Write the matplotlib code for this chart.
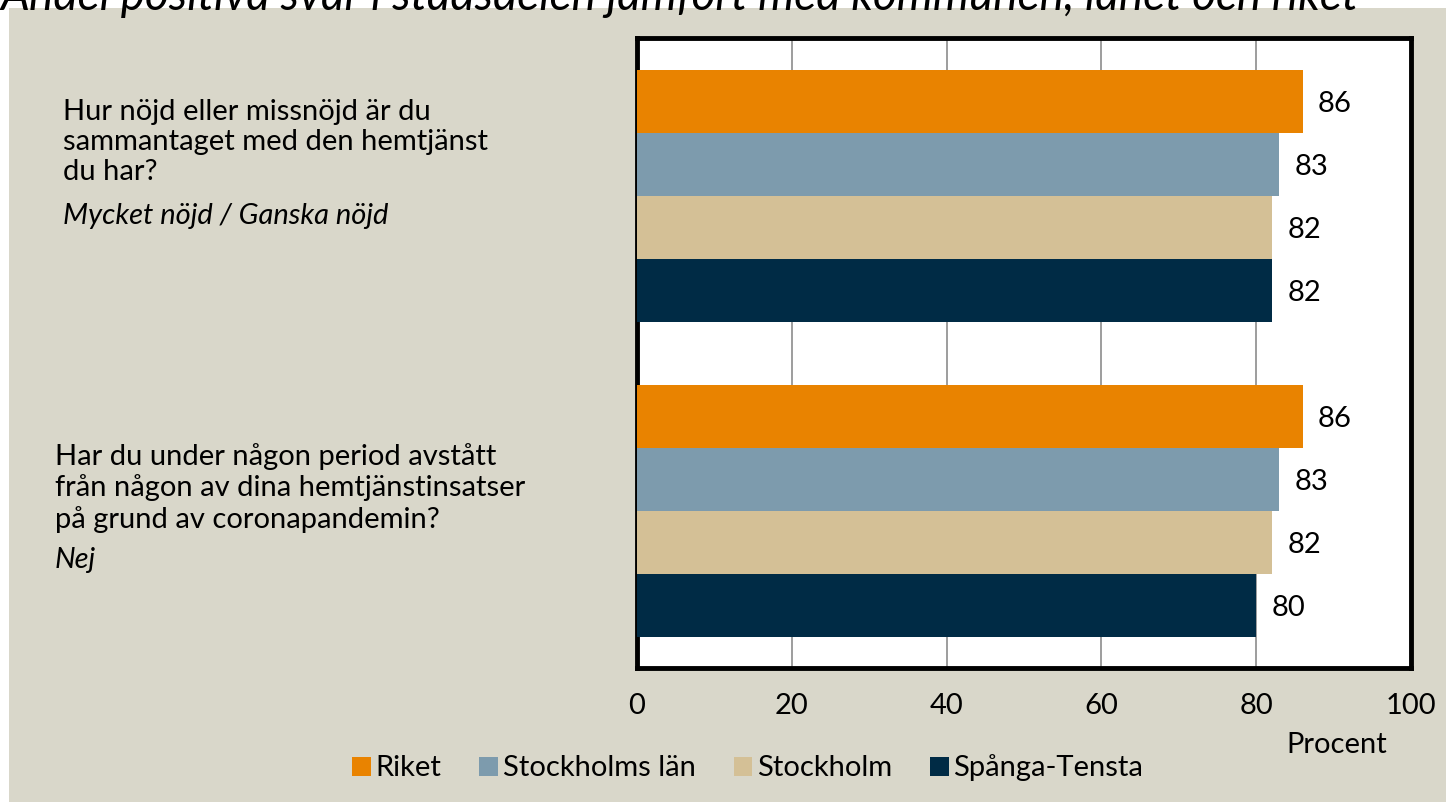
import matplotlib.pyplot as plt
import numpy as np

# Data
fragor = [
    "Hur nöjd eller missnöjd är du\nsammantaget med den hemtjänst\ndu har?",
    "Har du under någon period avstått\nfrån någon av dina hemtjänstinsatser\npå grund av coronapandemin?",
]
svar = ["Mycket nöjd / Ganska nöjd", "Nej"]
omraden = ["Riket", "Stockholms län", "Stockholm", "Spånga-Tensta"]
varden = {
    "Riket": [86, 86],
    "Stockholms län": [83, 83],
    "Stockholm": [82, 82],
    "Spånga-Tensta": [82, 80],
}
farger = ["#E98300", "#7D9BAD", "#D4C096", "#002B45"]
bakgrund = "#D9D7CA"

plt.rcParams['font.family'] = ['Lato', 'DejaVu Sans']
fs = 21

fig = plt.figure(figsize=(14.46, 8.02), dpi=100)
fig.patch.set_facecolor("white")

# beige panel behind everything
bg = fig.add_axes([9 / 1446, 0, 1, 1 - 8 / 802], zorder=-10)
bg.set_facecolor(bakgrund)
bg.set_xticks([])
bg.set_yticks([])
for s in bg.spines.values():
    s.set_visible(False)

# cut off title at the top (clipped in the original too)
fig.text(0.0, 1 - 10 / 802, "Andel positiva svar i stadsdelen jämfört med kommunen, länet och riket",
         fontsize=33, style="italic", va="baseline", ha="left", color="black")

ax = fig.add_axes([637 / 1446, 1 - 668 / 802, (1411 - 637) / 1446, (668 - 38) / 802])
ax.set_facecolor("white")

y = np.arange(len(fragor))
h = 0.2
for i, namn in enumerate(omraden):
    pos = y - 0.3 + i * h
    ax.barh(pos, varden[namn], height=h, color=farger[i], label=namn, zorder=3)
    for p, v in zip(pos, varden[namn]):
        ax.text(v + 2, p + 0.01, str(v), va="center", ha="left", fontsize=fs, zorder=4)

ax.set_xlim(0, 100)
ax.set_ylim(1.5, -0.5)
ax.set_xticks(range(0, 101, 20))
ax.tick_params(axis="x", length=0, labelsize=fs, pad=18)
ax.set_yticks([])
ax.grid(axis="x", color="#8C8C8C", linewidth=1.2, zorder=1)
for s in ax.spines.values():
    s.set_linewidth(3.5)
    s.set_color("black")

# question texts on the left
fig.text(63 / 1446, 1 - 99 / 802, fragor[0], fontsize=fs, va="top", ha="left", linespacing=1.2)
fig.text(63 / 1446, 1 - 203 / 802, svar[0], fontsize=fs, va="top", ha="left", style="italic")
fig.text(55 / 1446, 1 - 443 / 802, fragor[1], fontsize=fs, va="top", ha="left", linespacing=1.2)
fig.text(55 / 1446, 1 - 547 / 802, svar[1], fontsize=fs, va="top", ha="left", style="italic")

fig.text(1337 / 1446, 1 - 745 / 802, "Procent", fontsize=fs, ha="center", va="center")

fig.legend(loc="center left", bbox_to_anchor=(326 / 1446, 1 - 768 / 802), ncol=4, frameon=False,
           fontsize=fs, handlelength=0.65, handleheight=0.65, handletextpad=0.15, columnspacing=1.3)

fig.savefig("out.png", dpi=100, facecolor=fig.get_facecolor())
